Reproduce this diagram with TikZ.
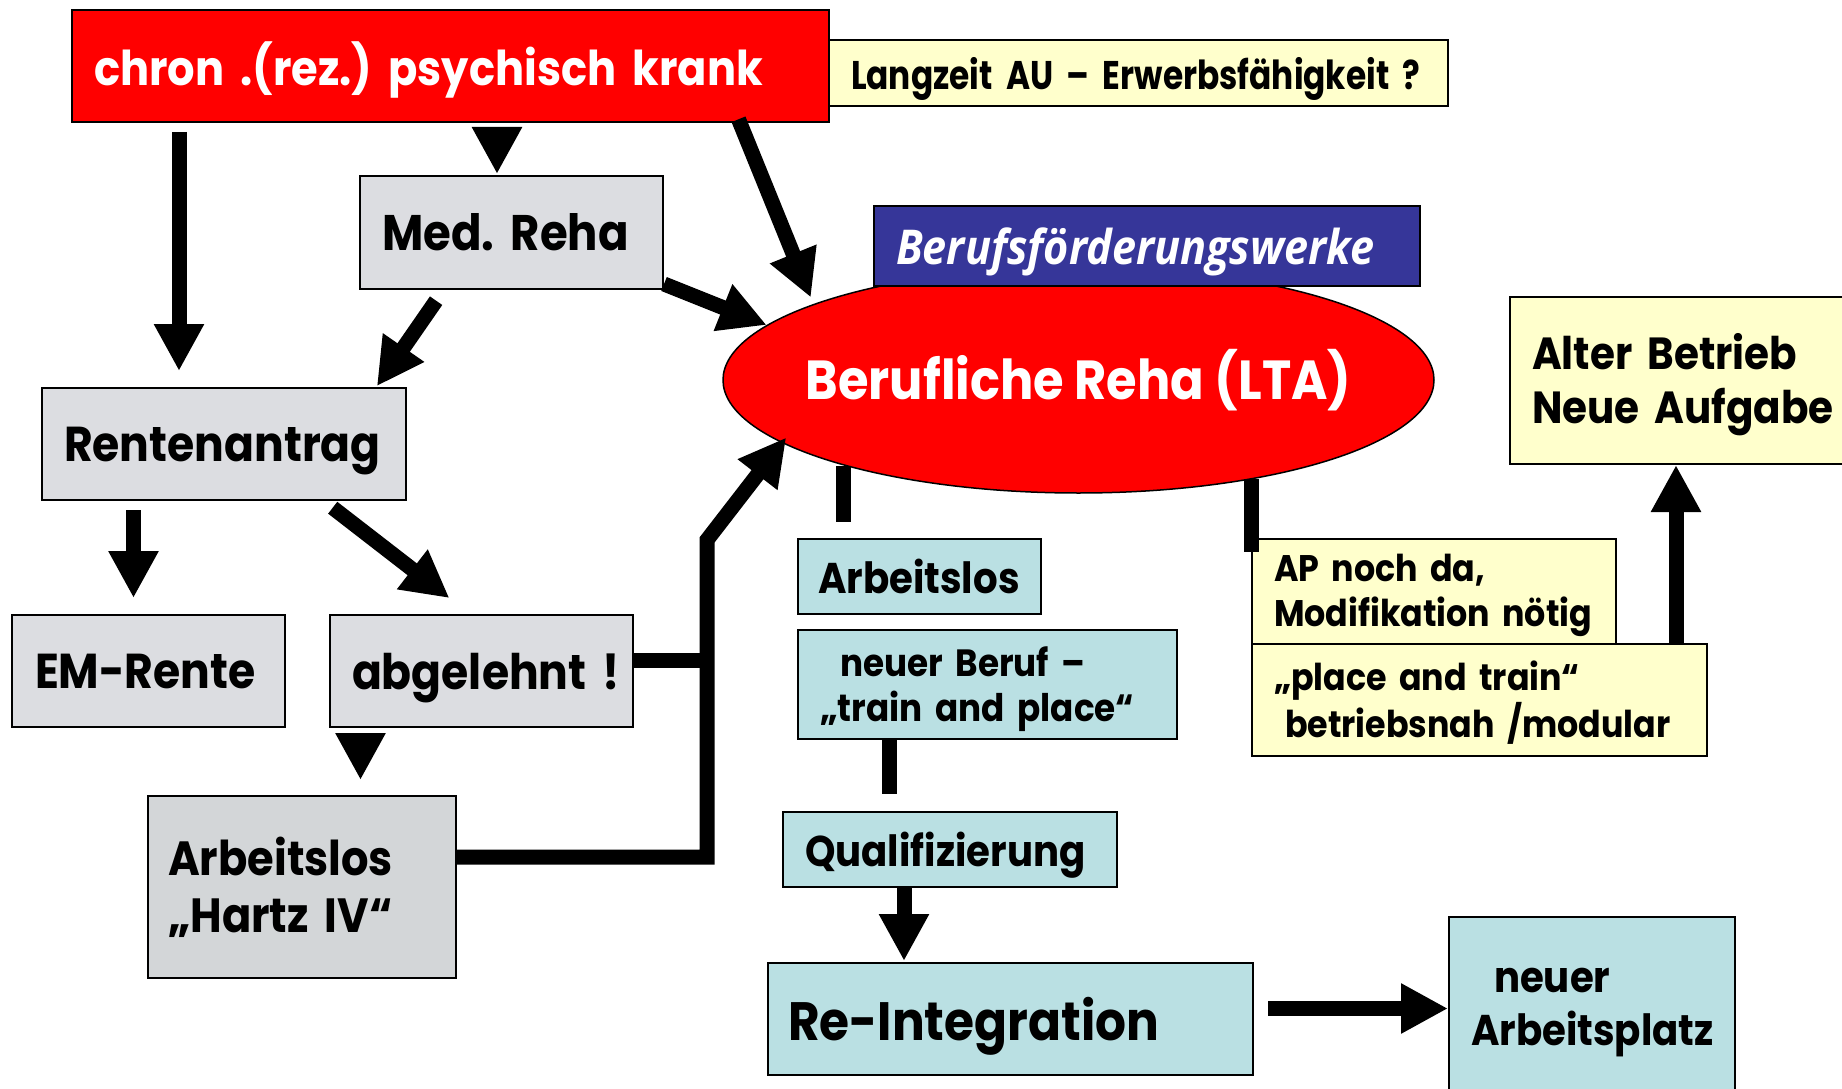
\documentclass[tikz,border=0pt]{standalone}
\usepackage{fontspec}
\newfontfamily\gothic{Poppins}[FakeStretch=0.9]
\newfontfamily\gothicschmal{Poppins}[FakeStretch=0.82]
\newfontfamily\bfwfont{Open Sans}[FakeStretch=0.9]
\usetikzlibrary{arrows.meta,shapes.geometric}
\hyphenpenalty=10000
\exhyphenpenalty=10000

\definecolor{rot}{HTML}{FF0000}
\definecolor{gelb}{HTML}{FFFFCC}
\definecolor{grau}{HTML}{DCDDE1}
\definecolor{grauhartz}{HTML}{D3D6D8}
\definecolor{tuerkis}{HTML}{BAE0E3}
\definecolor{blau}{HTML}{363699}

\tikzset{
  kasten/.style={rectangle,draw=black,line width=2pt,inner ysep=0pt,align=left},
  rotbox/.style={kasten,fill=rot,text=white},
  gelbbox/.style={kasten,fill=gelb},
  graubox/.style={kasten,fill=grau},
  tuerkisbox/.style={kasten,fill=tuerkis},
  pfeil/.style={line width=15pt,-{Triangle[length=47pt,width=47pt]}},
  balken/.style={line width=15pt}
}
\newcommand{\gsize}[2]{\gothic\bfseries\fontsize{#1}{#2}\selectfont}

\begin{document}
\begin{tikzpicture}[x=1pt,y=-1pt]
\useasboundingbox (0,0) rectangle (1842,1089);
% obere Reihe
\node[rotbox,minimum height=112pt,text width=713pt,inner xsep=22pt,text depth=4pt,font=\gsize{48}{58}](chron)at(450.5,66){chron~.(rez.)~psychisch~krank};
\node[gelbbox,minimum height=66pt,text width=575pt,inner xsep=22pt,text depth=0pt,font=\gothicschmal\bfseries\fontsize{40}{48}\selectfont](langzeit)at(1138.5,73){Langzeit~AU~–~Erwerbsfähigkeit~?};
\node[graubox,minimum height=113pt,text width=259pt,inner xsep=22pt,font=\gsize{50}{60}](medreha)at(511.5,232.5){Med.~Reha};
% Reha
\node[ellipse,draw=black,line width=1.5pt,fill=rot,text=white,minimum width=711pt,minimum height=226pt,inner sep=0pt,font=\gsize{55}{66}](lta)at(1078.5,380){\makebox[0pt]{Berufliche Reha (LTA)}};
\node[kasten,fill=blau,text=white,minimum height=80pt,text width=502pt,inner xsep=22pt,text depth=0pt,font=\bfwfont\bfseries\itshape\fontsize{48}{56}\selectfont](bfw)at(1147,246){Berufsförderungswerke};
% linke Seite
\node[graubox,minimum height=112pt,text width=320pt,inner xsep=22pt,text depth=0pt,font=\gsize{49}{60}](rente)at(224,444){Rentenantrag};
\node[graubox,minimum height=112pt,text width=227pt,inner xsep=23pt,font=\gsize{49}{60}](emrente)at(148.5,671){EM-Rente};
\node[graubox,minimum height=112pt,text width=259pt,inner xsep=22pt,text depth=0pt,font=\gsize{49}{60}](abgelehnt)at(481.5,671){abgelehnt~!};
\node[kasten,fill=grauhartz,minimum height=182pt,text width=268pt,inner xsep=20pt,font=\gsize{48}{57}](hartz)at(302,887){Arbeitslos\\„Hartz~IV“};
% Mitte
\node[tuerkisbox,minimum height=75pt,text width=203pt,inner xsep=20pt,font=\gsize{43}{52}](arblos)at(919.5,576.5){Arbeitslos};
\node[tuerkisbox,minimum height=109pt,text width=335pt,inner xsep=22pt,font=\gsize{38}{45}](neuberuf)at(987.5,684.5){\rule{0pt}{39pt}\hspace*{20pt}neuer~Beruf~–\\„train~and~place“};
\node[tuerkisbox,minimum height=75pt,text width=290pt,inner xsep=22pt,text depth=0pt,font=\gsize{43}{50}](quali)at(950,849.5){Qualifizierung};
\node[tuerkisbox,minimum height=112pt,text width=445pt,inner xsep=20pt,text depth=0pt,font=\gsize{54}{66}](reint)at(1010.5,1019){Re-Integration};
\node[tuerkisbox,minimum height=183pt,text width=242pt,inner xsep=22pt,font=\gsize{43}{53}](neuap)at(1592,1008.5){\rule{0pt}{33pt}\hspace*{23pt}neuer\\Arbeitsplatz};
% rechte Seite
\node[gelbbox,minimum height=105pt,text width=320pt,inner xsep=22pt,font=\gsize{37}{45}](apda)at(1434,591.5){\rule{0pt}{36pt}AP~noch~da,\\Modifikation~nötig};
\node[gelbbox,minimum height=112pt,text width=411pt,inner xsep=22pt,font=\gsize{37}{47}](placetrain)at(1479.5,700){\rule{0pt}{35pt}„place~and~train“\\\hspace*{11pt}betriebsnah~/modular};
\node[gelbbox,minimum height=167pt,text width=336pt,inner xsep=22pt,font=\gsize{45}{54}](alter)at(1700,380.5){\rule{0pt}{45pt}Alter~Betrieb\\Neue~Aufgabe};
\coordinate (knick) at (707,540);
% Pfeile
\draw[pfeil,shorten <=9pt,shorten >=16pt] (chron.south -| 179,0) -- (rente.north -| 179,0);
\draw[pfeil,shorten <=6pt,shorten >=1pt] (chron.south -| 497,0) -- (medreha.north -| 497,0);
\draw[pfeil,shorten <=-4pt,shorten >=7pt] (chron.south -| 740,0) -- (lta.164);
\draw[pfeil] ([yshift=6pt]medreha.south east) -- (lta.170);
\draw[pfeil,shorten <=13pt,shorten >=1pt] (medreha.south -| 443.5,0) -- (rente.north -| 376.3,0);
\draw[pfeil,shorten <=9pt,shorten >=16pt] (rente.south -| 133.5,0) -- (emrente.north -| 133.5,0);
\draw[pfeil,shorten <=11pt,shorten >=26pt] (rente.south -| 324,0) -- (abgelehnt.north -| 470,0);
\draw[pfeil,shorten <=6pt,shorten >=15pt] (abgelehnt.south -| 360.5,0) -- (hartz.north -| 360.5,0);
\draw[balken] (abgelehnt.east |- 0,660.5) -- (knick |- 0,660.5);
\draw[pfeil,line join=miter,shorten >=-7pt] (hartz.east |- 0,857) -- (knick |- 0,857) -- (knick) -- (lta.192);
\draw[balken,shorten >=16pt] (lta.200) -- (lta.200 |- arblos.north);
\draw[balken,shorten >=-14pt] (apda.north west |- lta.-29.5) -- (apda.north west);
\draw[balken,shorten <=-2pt,shorten >=17pt] (neuberuf.south -| 889,0) -- (quali.north -| 889,0);
\draw[pfeil,shorten >=1pt] (quali.south -| 904,0) -- (reint.north -| 904,0);
\draw[pfeil,shorten <=14pt] (reint.east |- 0,1008.5) -- (neuap.west |- 0,1008.5);
\draw[pfeil] (placetrain.north -| 1676,0) -- (alter.south -| 1676,0);
\end{tikzpicture}
\end{document}
